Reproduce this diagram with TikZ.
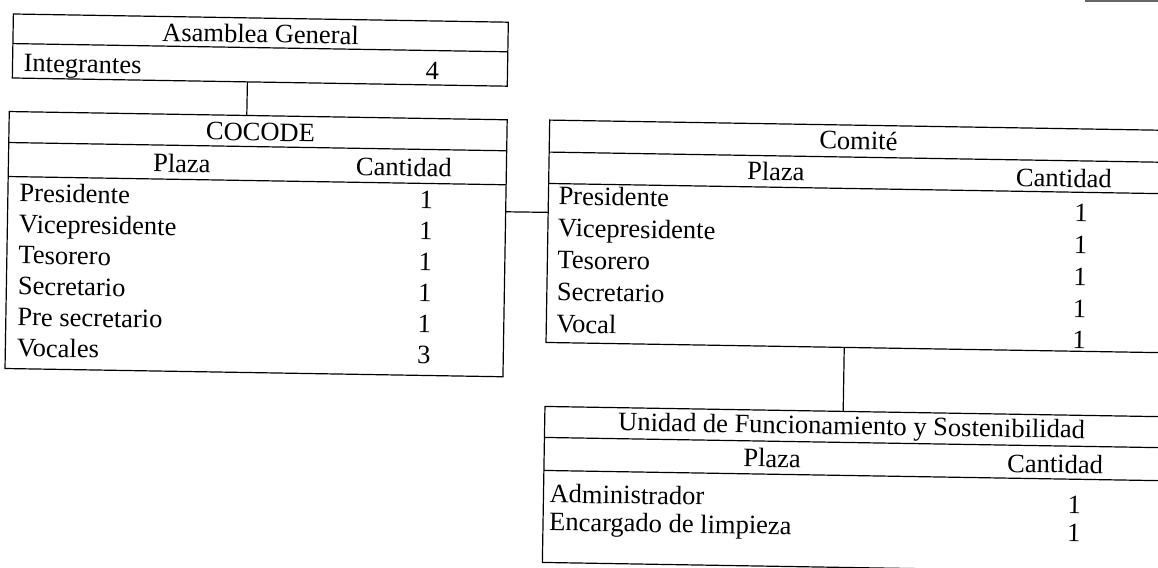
\documentclass[tikz,border=0pt]{standalone}
\usepackage{fontspec}
\setmainfont{Liberation Serif}
\usetikzlibrary{calc}
\begin{document}
\begin{tikzpicture}[x=1pt,y=-1pt,
  box/.style={draw, line width=1.2pt, rectangle, inner sep=0pt, outer sep=0pt, anchor=north west},
  rule/.style={line width=1.2pt},
  txt/.style={inner sep=0pt, text height=18pt, text depth=0pt, font=\fontsize{26.5}{30}\selectfont},
  lab/.style={txt, anchor=west},
  num/.style={txt}]
\clip (0,0) rectangle (1158,567);
\fill[white] (0,0) rectangle (1158,567);
\draw[line width=2.5pt, black!60] (1085,1) -- (1158,1);
\begin{scope}[rotate around={-0.95:(579,283)}, transform shape]
% Asamblea General
\node[box, minimum width=495pt, minimum height=64pt] (asam) at (9,23.4) {};
\draw[rule] (9,53) -- (504,53);
\node[txt] (asamT) at (256.5,39) {Asamblea General};
\node[lab] (asamI) at (20,72) {Integrantes};
\node[num] (asamN) at (429,73) {4};
% COCODE
\node[box, minimum width=498pt, minimum height=257pt] (cocode) at (6.5,121) {};
\draw[rule] (6.5,152) -- (504.5,152);
\draw[rule] (6.5,186) -- (504.5,186);
\node[txt] (cT) at (258,137) {COCODE};
\node[txt] (cP) at (180,170) {Plaza};
\node[txt] (cC) at (402,170) {Cantidad};
\node[lab] (c1) at (18,202) {Presidente};
\node[lab] (c2) at (18,233) {Vicepresidente};
\node[lab] (c3) at (18,264) {Tesorero};
\node[lab] (c4) at (18,295) {Secretario};
\node[lab] (c5) at (18,326) {Pre secretario};
\node[lab] (c6) at (18,357) {Vocales};
\node[num] (n1) at (425,202) {1};
\node[num] (n2) at (425,233) {1};
\node[num] (n3) at (425,264) {1};
\node[num] (n4) at (425,295) {1};
\node[num] (n5) at (425,326) {1};
\node[num] (n6) at (425,357) {3};
% Comite
\node[box, minimum width=628pt, minimum height=222.4pt] (comite) at (547,120.6) {};
\draw[rule] (547,152.6) -- (1175,152.6);
\draw[rule] (547,184) -- (1175,184);
\node[txt] (mT) at (856,136) {Comité};
\node[txt] (mP) at (774,168) {Plaza};
\node[txt] (mC) at (1062,170) {Cantidad};
\node[lab] (m1) at (557,196) {Presidente};
\node[lab] (m2) at (557,228) {Vicepresidente};
\node[lab] (m3) at (557,260) {Tesorero};
\node[lab] (m4) at (557,292) {Secretario};
\node[lab] (m5) at (557,324) {Vocal};
\node[num] (k1) at (1080,204) {1};
\node[num] (k2) at (1080,236) {1};
\node[num] (k3) at (1080,268) {1};
\node[num] (k4) at (1080,300) {1};
\node[num] (k5) at (1080,331) {1};
% Unidad
\node[box, minimum width=628pt, minimum height=156pt] (unidad) at (547,407) {};
\draw[rule] (547,438) -- (1175,438);
\draw[rule] (547,471) -- (1175,471);
\node[txt] (uT) at (854,421) {Unidad de Funcionamiento y Sostenibilidad};
\node[txt] (uP) at (775,455) {Plaza};
\node[txt] (uC) at (1058,456) {Cantidad};
\node[lab] (u1) at (553,494) {Administrador};
\node[lab] (u2) at (553,522) {Encargado de limpieza};
\node[num] (v1) at (1078,496) {1};
\node[num] (v2) at (1078,524) {1};
% connectors
\draw[rule] ($(asam.south west)!0.475!(asam.south east)$) -- ($(cocode.north west)!0.477!(cocode.north east)$);
\draw[rule] ($(cocode.north east)!0.358!(cocode.south east)$) -- ($(comite.north west)!0.415!(comite.south west)$);
\draw[rule] ($(comite.south west)!0.475!(comite.south east)$) -- ($(unidad.north west)!0.475!(unidad.north east)$);
\end{scope}
\end{tikzpicture}
\end{document}
